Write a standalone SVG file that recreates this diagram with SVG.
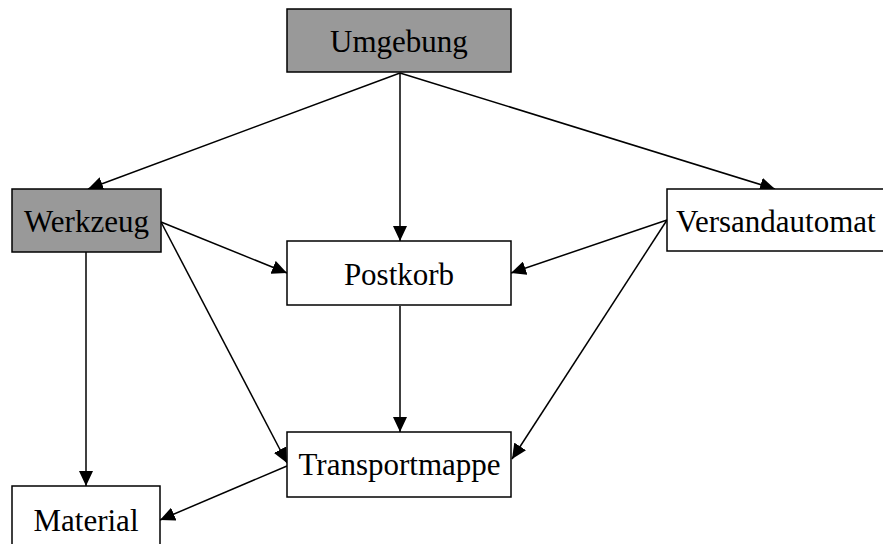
<svg xmlns="http://www.w3.org/2000/svg" width="883" height="544" viewBox="0 0 883 544">
  <style>
    .box { fill: #ffffff; stroke: #000000; stroke-width: 1.5; }
    .box.grey { fill: #999999; }
    .label { font-family: "Liberation Serif", "Times New Roman", serif; font-size: 31px; fill: #000000; text-anchor: middle; }
    .edge { fill: none; stroke: #000000; stroke-width: 1.5; marker-end: url(#arrow); }
  </style>
  <defs>
    <marker id="arrow" markerUnits="userSpaceOnUse" markerWidth="16" markerHeight="14" refX="15" refY="7" orient="auto">
      <path d="M0,0 L15,7 L0,14 Z" fill="#000000"/>
    </marker>
  </defs>
  <rect width="883" height="544" fill="#ffffff"/>

  <g id="connectors">
    <line class="edge" x1="400" y1="73" x2="88" y2="189"/>
    <line class="edge" x1="400" y1="73" x2="400" y2="241"/>
    <line class="edge" x1="400" y1="73" x2="775" y2="189"/>
    <line class="edge" x1="161" y1="222" x2="287" y2="273"/>
    <line class="edge" x1="161" y1="222" x2="287" y2="463"/>
    <line class="edge" x1="86" y1="252" x2="86" y2="486"/>
    <line class="edge" x1="667" y1="220" x2="511" y2="273"/>
    <line class="edge" x1="667" y1="220" x2="512" y2="459"/>
    <line class="edge" x1="400" y1="306" x2="400" y2="432"/>
    <line class="edge" x1="287" y1="466" x2="160" y2="520"/>
  </g>

  <g id="umgebung">
    <rect class="box grey" x="287" y="9" width="224" height="63"/>
    <text class="label" x="399" y="52">Umgebung</text>
  </g>
  <g id="werkzeug">
    <rect class="box grey" x="12" y="189" width="149" height="63"/>
    <text class="label" x="86.5" y="231.5">Werkzeug</text>
  </g>
  <g id="versandautomat">
    <rect class="box" x="667" y="189" width="230" height="62"/>
    <text class="label" x="676" y="231.5" style="text-anchor:start">Versandautomat</text>
  </g>
  <g id="postkorb">
    <rect class="box" x="287" y="241" width="224" height="64"/>
    <text class="label" x="399" y="284.5">Postkorb</text>
  </g>
  <g id="transportmappe">
    <rect class="box" x="287" y="432" width="224" height="65"/>
    <text class="label" x="399.5" y="475">Transportmappe</text>
  </g>
  <g id="material">
    <rect class="box" x="12" y="486" width="148" height="70"/>
    <text class="label" x="86" y="531">Material</text>
  </g>
</svg>
